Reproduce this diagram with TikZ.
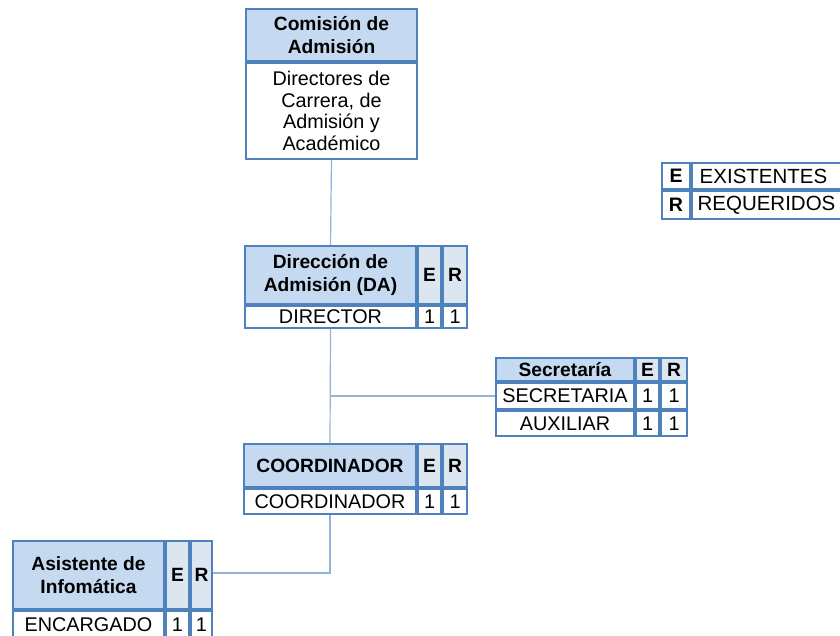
\documentclass[tikz,border=0pt]{standalone}
\usepackage{fontspec}
\setmainfont{Liberation Sans}
\definecolor{cellborder}{HTML}{4F81BD}
\definecolor{headfill}{HTML}{C5D9F1}
\definecolor{erfill}{HTML}{DCE6F1}
\definecolor{linkcol}{HTML}{95B3D7}
% one table cell: name, x1, y1, x2, y2, style, text
\newcommand\cellnode[7]{%
  \node[#6, minimum width={#4-#2-2.2}, minimum height={#5-#3-2.2}] (#1)
    at ({(#2+#4)/2},{(#3+#5)/2}) {#7};}
\begin{document}
\begin{tikzpicture}[x=1pt,y=-1pt,
  cellbase/.style={draw=cellborder, line width=1.7pt, inner sep=0pt, align=center,
    font=\fontsize{19.8}{21.5}\selectfont},
  headcell/.style={cellbase, fill=headfill, font=\bfseries\fontsize{19.2}{23.5}\selectfont},
  ercell/.style={cellbase, fill=erfill, font=\bfseries\fontsize{19.2}{23.5}\selectfont},
  bodycell/.style={cellbase, fill=white},
  legkey/.style={cellbase, fill=white, font=\bfseries\fontsize{19.5}{22}\selectfont},
  legtext/.style={cellbase, fill=white, font=\fontsize{20.5}{22}\selectfont},
  link/.style={draw=linkcol, line width=1.2pt}]
\useasboundingbox (0,0) rectangle (840,636);

% Comisión de Admisión
\cellnode{comH}{245}{8}{418}{62}{headcell}{Comisión de\\Admisión}
\cellnode{comB}{245}{62}{418}{160}{bodycell}{Directores de\\Carrera, de\\Admisión y\\Académico}

% Dirección de Admisión
\cellnode{daH}{244}{245}{417}{305}{headcell}{Dirección de\\Admisión (DA)}
\cellnode{daE}{417}{245}{442}{305}{ercell}{E}
\cellnode{daR}{442}{245}{468}{305}{ercell}{R}
\cellnode{daB}{244}{305}{417}{329}{bodycell}{DIRECTOR}
\cellnode{daBE}{417}{305}{442}{329}{bodycell}{1}
\cellnode{daBR}{442}{305}{468}{329}{bodycell}{1}

% Secretaría
\cellnode{secH}{495}{357}{635}{382}{headcell}{Secretaría}
\cellnode{secE}{635}{357}{660}{382}{ercell}{E}
\cellnode{secR}{660}{357}{688}{382}{ercell}{R}
\cellnode{secA}{495}{382}{635}{410}{bodycell}{SECRETARIA}
\cellnode{secAE}{635}{382}{660}{410}{bodycell}{1}
\cellnode{secAR}{660}{382}{688}{410}{bodycell}{1}
\cellnode{secB}{495}{410}{635}{437}{bodycell}{AUXILIAR}
\cellnode{secBE}{635}{410}{660}{437}{bodycell}{1}
\cellnode{secBR}{660}{410}{688}{437}{bodycell}{1}

% Coordinador
\cellnode{coH}{243}{443}{417}{488}{headcell}{COORDINADOR}
\cellnode{coE}{417}{443}{442}{488}{ercell}{E}
\cellnode{coR}{442}{443}{468}{488}{ercell}{R}
\cellnode{coB}{243}{488}{417}{515}{bodycell}{COORDINADOR}
\cellnode{coBE}{417}{488}{442}{515}{bodycell}{1}
\cellnode{coBR}{442}{488}{468}{515}{bodycell}{1}

% Asistente de Informática
\cellnode{asH}{12}{540}{165}{610}{headcell}{Asistente de\\Infomática}
\cellnode{asE}{165}{540}{190}{610}{ercell}{E}
\cellnode{asR}{190}{540}{213}{610}{ercell}{R}
\cellnode{asB}{12}{610}{165}{640}{bodycell}{ENCARGADO}
\cellnode{asBE}{165}{610}{190}{640}{bodycell}{1}
\cellnode{asBR}{190}{610}{213}{640}{bodycell}{1}

% Legend
\cellnode{lgE}{661}{162}{691}{190}{legkey}{E}
\cellnode{lgEt}{691}{162}{850}{190}{legtext}{\hspace*{-14pt}EXISTENTES}
\cellnode{lgR}{661}{190}{691}{220}{legkey}{R}
\cellnode{lgRt}{691}{190}{850}{220}{legtext}{\hspace*{-8pt}REQUERIDOS}

% Connectors
\coordinate (secJoin) at (daB.south |- secA.west);
\draw[link] (comB.south) -- (daH.north);
\draw[link] (daB.south) -- (coH.north);
\draw[link] (secJoin) -- (secA.west);
\coordinate (asJoin) at (coB.south |- 0,573);
\draw[link] (coB.south) -- (asJoin) -- (asJoin -| asR.east);
\end{tikzpicture}
\end{document}
